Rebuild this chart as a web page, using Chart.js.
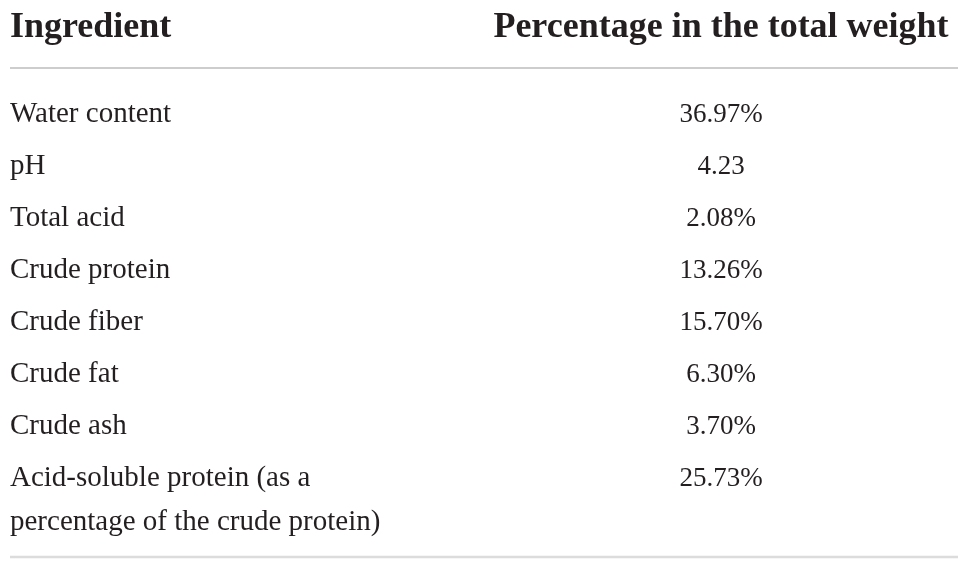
<!DOCTYPE html>
<html>
<head>
<meta charset="utf-8">
<script src="https://cdn.jsdelivr.net/npm/chart.js@4"></script>
<style>
  html, body { margin: 0; padding: 0; background: #fff; }
  #wrap { width: 979px; height: 570px; }
</style>
</head>
<body>
<div id="wrap"><canvas id="table" width="979" height="570"></canvas></div>
<script>
// table content
const columns = ['Ingredient', 'Percentage in the total weight'];
const ingredients = [
    'Water content',
    'pH',
    'Total acid',
    'Crude protein',
    'Crude fiber',
    'Crude fat',
    'Crude ash',
    ['Acid-soluble protein (as a', 'percentage of the crude protein)']
];
const amounts = [36.97, 4.23, 2.08, 13.26, 15.70, 6.30, 3.70, 25.73];
const units = ['%', '', '%', '%', '%', '%', '%', '%'];

const TEXT = '#231f20';
const SERIF = '"Liberation Serif", "Times New Roman", serif';

const tablePlugin = {
    id: 'tableText',
    afterDatasetsDraw(chart) {
        const { ctx, chartArea, scales } = chart;
        const xs = scales.x, ys = scales.y;
        const colW = xs.getPixelForValue(1) - xs.getPixelForValue(0);
        const leftEdge = xs.getPixelForValue(0) - colW / 2;
        const rowH = ys.getPixelForValue(1) - ys.getPixelForValue(0);

        ctx.save();
        ctx.fillStyle = TEXT;
        ctx.textBaseline = 'alphabetic';

        // header
        const headY = chartArea.top - 50;
        ctx.font = 'bold 36px ' + SERIF;
        ctx.textAlign = 'left';
        ctx.fillText(columns[0], leftEdge, headY);
        ctx.textAlign = 'center';
        ctx.fillText(columns[1], xs.getPixelForValue(1), headY);

        // rules
        ctx.strokeStyle = '#bdbdbd';
        ctx.lineWidth = 1.5;
        ctx.beginPath();
        ctx.moveTo(chartArea.left, chartArea.top - 19);
        ctx.lineTo(chartArea.right, chartArea.top - 19);
        ctx.stroke();
        ctx.strokeStyle = '#dcdcdc';
        ctx.lineWidth = 2.5;
        ctx.beginPath();
        ctx.moveTo(chartArea.left, chartArea.bottom + 54);
        ctx.lineTo(chartArea.right, chartArea.bottom + 54);
        ctx.stroke();

        // ingredient names
        ctx.font = '29px ' + SERIF;
        ctx.textAlign = 'left';
        ingredients.forEach((name, i) => {
            const y = ys.getPixelForValue(i) + 9;
            const lines = Array.isArray(name) ? name : [name];
            lines.forEach((ln, k) => ctx.fillText(ln, leftEdge, y + k * rowH * 0.85));
        });

        // values at the dataset points
        ctx.font = '27px ' + SERIF;
        ctx.textAlign = 'center';
        chart.getDatasetMeta(0).data.forEach((pt, i) => {
            ctx.fillText(amounts[i].toFixed(2) + units[i], pt.x, pt.y + 9);
        });
        ctx.restore();
    }
};

new Chart(document.getElementById('table'), {
    type: 'scatter',
    data: {
        datasets: [{
            data: amounts.map((v, i) => ({ x: columns[1], y: i })),
            pointRadius: 0,
            pointHoverRadius: 0
        }]
    },
    options: {
        responsive: false,
        animation: false,
        events: [],
        layout: { padding: { left: 10, right: 21, top: 87, bottom: 67 } },
        plugins: { legend: { display: false }, tooltip: { enabled: false } },
        scales: {
            x: { type: 'category', labels: columns, offset: true, display: false },
            y: { type: 'category', labels: ingredients, offset: true, display: false }
        }
    },
    plugins: [tablePlugin]
});
</script>
</body>
</html>
